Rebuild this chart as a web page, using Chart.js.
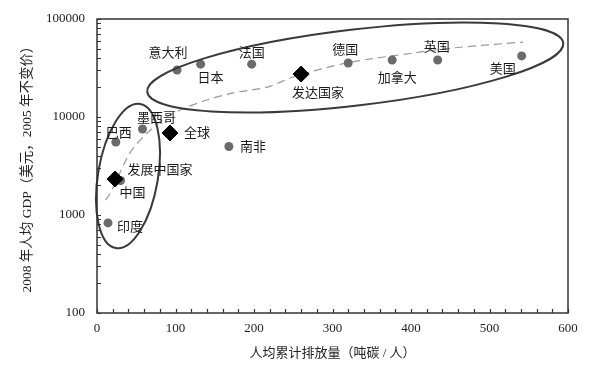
<!DOCTYPE html>
<html>
<head>
<meta charset="utf-8">
<script src="https://cdn.jsdelivr.net/npm/chart.js@4/dist/chart.umd.min.js"></script>
<style>
  body { margin: 0; background: #fff; }
</style>
</head>
<body>
<canvas id="chartjs-0" width="603" height="388"></canvas>
<script>
// countries (grey dots)
var countries = ["意大利", "日本", "法国", "德国", "加拿大", "英国", "美国", "墨西哥", "巴西", "南非", "中国", "印度"];
var countryX = [102, 132, 197, 320, 376, 434, 541, 58, 24, 168, 30, 14];
var countryY = [30200, 34600, 34600, 35600, 38200, 38200, 42000, 7550, 5560, 5000, 2250, 830];

// group averages (black diamonds)
var groups = ["发达国家", "全球", "发展中国家"];
var groupX = [260, 93, 23];
var groupY = [27400, 6870, 2330];

// dashed trend line
var trendX = [11, 17, 42, 64, 89, 115, 140, 173, 217, 250, 318, 403, 453, 543];
var trendY = [1420, 1675, 4300, 6870, 10000, 12650, 14900, 17600, 20200, 25600, 35600, 45000, 50600, 58200];

// ellipses: two tips in data units, plus half width in px
var bigTips = [[64, 18000], [594, 56900]];
var smallTips = [[55, 13600], [24, 460]];

var yTicks = [100, 1000, 10000, 100000];

// label offsets in px from the mark
var countryOff = [[-9, -18], [10, 13], [0, -12], [-3, -14], [5, 17], [-1, -14], [-19, 12], [14, -12], [3, -10], [24, 0], [12, 12], [22, 3]];
var groupOff = [[17, 18], [27, -1], [45, -10]];

var numFont = "'Liberation Serif', 'Noto Sans CJK SC', serif";
var cjkFont = "'Noto Sans CJK SC', sans-serif";

function toPts(xs, ys) {
  var out = [];
  for (var i = 0; i < xs.length; i++) out.push({ x: xs[i], y: ys[i] });
  return out;
}

function drawEllipse(ctx, xs, ys, tips, half) {
  var x1 = xs.getPixelForValue(tips[0][0]), y1 = ys.getPixelForValue(tips[0][1]);
  var x2 = xs.getPixelForValue(tips[1][0]), y2 = ys.getPixelForValue(tips[1][1]);
  var cx = (x1 + x2) / 2, cy = (y1 + y2) / 2;
  var a = Math.sqrt((x2 - x1) * (x2 - x1) + (y2 - y1) * (y2 - y1)) / 2;
  var ang = Math.atan2(y2 - y1, x2 - x1);
  ctx.beginPath();
  ctx.ellipse(cx, cy, a, half, ang, 0, Math.PI * 2);
  ctx.stroke();
}

var extras = {
  id: "extras",
  afterDatasetsDraw: function (chart) {
    var ctx = chart.ctx;
    var xs = chart.scales.x, ys = chart.scales.y;
    var area = chart.chartArea;
    ctx.save();

    // ellipses
    ctx.strokeStyle = "#3a3a3a";
    ctx.lineWidth = 2;
    drawEllipse(ctx, xs, ys, bigTips, 38);
    drawEllipse(ctx, xs, ys, smallTips, 30);

    // frame
    ctx.strokeStyle = "#333";
    ctx.lineWidth = 1.5;
    ctx.strokeRect(area.left, area.top, area.right - area.left, area.bottom - area.top);

    // inward tick marks
    ctx.lineWidth = 1.2;
    ctx.beginPath();
    for (var v = 0; v <= 600; v += 20) {
      var px = Math.round(xs.getPixelForValue(v)) + 0.5;
      ctx.moveTo(px, area.bottom);
      ctx.lineTo(px, area.bottom - 4);
    }
    for (var d = 100; d < 100000; d *= 10) {
      for (var k = 1; k <= 10; k++) {
        var py = Math.round(ys.getPixelForValue(d * k)) + 0.5;
        ctx.moveTo(area.left, py);
        ctx.lineTo(area.left + 4, py);
      }
    }
    ctx.stroke();

    // labels
    ctx.fillStyle = "#1a1a1a";
    ctx.font = "13px " + cjkFont;
    ctx.textAlign = "center";
    ctx.textBaseline = "middle";
    for (var i = 0; i < countries.length; i++) {
      ctx.fillText(countries[i],
        xs.getPixelForValue(countryX[i]) + countryOff[i][0],
        ys.getPixelForValue(countryY[i]) + countryOff[i][1]);
    }
    for (var j = 0; j < groups.length; j++) {
      ctx.fillText(groups[j],
        xs.getPixelForValue(groupX[j]) + groupOff[j][0],
        ys.getPixelForValue(groupY[j]) + groupOff[j][1]);
    }
    ctx.restore();
  }
};

var ctx0 = document.getElementById("chartjs-0");
var myChart = new Chart(ctx0, {
  type: "scatter",
  data: {
    datasets: [
      {
        label: "groups",
        data: toPts(groupX, groupY),
        pointStyle: "rectRot",
        pointRadius: 8,
        backgroundColor: "#000",
        borderColor: "#000",
        borderWidth: 1
      },
      {
        label: "countries",
        data: toPts(countryX, countryY),
        pointRadius: 4.5,
        backgroundColor: "#6b6b6b",
        borderColor: "#6b6b6b",
        borderWidth: 0
      },
      {
        label: "trend",
        data: toPts(trendX, trendY),
        showLine: true,
        pointRadius: 0,
        borderColor: "#9a9a9a",
        borderWidth: 1.2,
        borderDash: [8, 5],
        tension: 0.3,
        fill: false
      }
    ]
  },
  options: {
    responsive: false,
    animation: false,
    layout: { padding: { left: 0, right: 35, top: 19, bottom: 0 } },
    plugins: {
      legend: { display: false },
      tooltip: { enabled: false }
    },
    scales: {
      x: {
        type: "linear",
        min: 0,
        max: 600,
        grid: { display: false },
        border: { display: false },
        ticks: {
          stepSize: 100,
          padding: 0,
          color: "#222",
          font: { family: numFont, size: 13 }
        },
        title: {
          display: true,
          text: "人均累计排放量（吨碳 / 人）",
          color: "#222",
          font: { family: numFont, size: 13 },
          padding: { top: 0, bottom: 27 }
        },
        afterFit: function (scale) { scale.height = 75; }
      },
      y: {
        type: "logarithmic",
        min: 100,
        max: 100000,
        grid: { display: false },
        border: { display: false },
        afterBuildTicks: function (scale) {
          scale.ticks = yTicks.map(function (v) { return { value: v }; });
        },
        ticks: {
          padding: 4,
          color: "#222",
          font: { family: numFont, size: 13 },
          callback: function (v) { return String(v); }
        },
        title: {
          display: true,
          text: "2008 年人均 GDP（美元，2005 年不变价）",
          color: "#222",
          font: { family: numFont, size: 13.5 },
          padding: { top: 19, bottom: 0 }
        },
        afterFit: function (scale) { scale.width = 97; }
      }
    }
  },
  plugins: [extras]
});
</script>
</body>
</html>
